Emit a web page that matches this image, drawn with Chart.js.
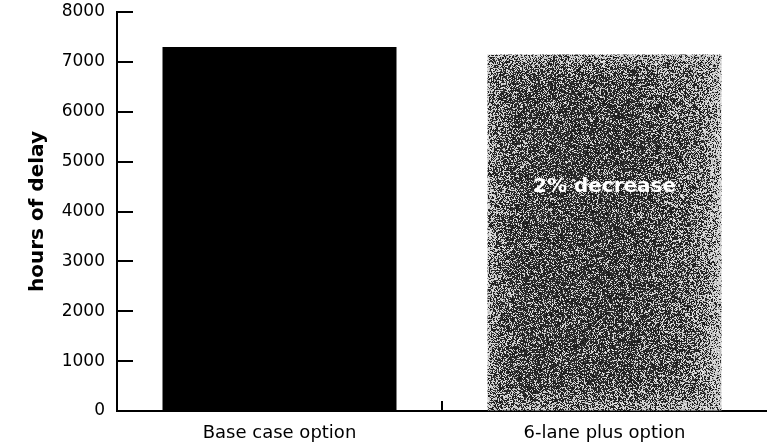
<!DOCTYPE html>
<html>
<head>
<meta charset="utf-8">
<script src="https://cdn.jsdelivr.net/npm/chart.js@4.4.1/dist/chart.umd.min.js"></script>
<style>
  html, body { margin: 0; padding: 0; background: #fff; }
  #wrap { width: 767px; height: 447px; }
</style>
</head>
<body>
<div id="wrap"><canvas id="delayChart" width="767" height="447"></canvas></div>
<script>
// chart data
const categories = ['Base case option', '6-lane plus option'];
const delayHours = [7300, 7150];
const yTicks = [0, 1000, 2000, 3000, 4000, 5000, 6000, 7000, 8000];
const annotationText = '2% decrease';
const annotationValue = 4490;

const FONT = '"DejaVu Sans", "Open Sans", sans-serif';
const BAR_PCT = 0.72;

function hash(x, y) {
    let h = (x * 374761393 + y * 668265263) | 0;
    h = (h ^ (h >>> 13)) * 1274126177;
    h = (h ^ (h >>> 16)) >>> 0;
    return (h % 10000) / 10000;
}

// scanned-look speckle: dark core, lighter edges
function speckledFill(chart) {
    const xs = chart.scales.x, ys = chart.scales.y;
    if (!xs || !chart.chartArea) return '#666';
    const cx = xs.getPixelForValue(1);
    const half = (xs.width / categories.length) * BAR_PCT / 2;
    const left = cx - half, right = cx + half;
    const top = ys.getPixelForValue(delayHours[1]), bottom = ys.bottom;
    const c = document.createElement('canvas');
    c.width = chart.width;
    c.height = chart.height;
    const g = c.getContext('2d');
    const img = g.createImageData(c.width, c.height);
    for (let y = Math.floor(top) - 1; y < Math.ceil(bottom) + 1; y++) {
        for (let x = Math.floor(left) - 1; x < Math.ceil(right) + 1; x++) {
            const d = Math.min(x - left, right - x, y - top, bottom - y);
            const edge = Math.exp(-Math.max(d, 0) / 14);
            const rightSide = Math.max(0, (x - left) / (right - left) - 0.6) * 0.5;
            const p = 0.26 + 0.4 * edge + rightSide;
            const r = hash(x, y);
            const v = r < p ? 235 - Math.floor(hash(y, x) * 60) : 20 + Math.floor(hash(y + 7, x) * 40);
            const i = (y * c.width + x) * 4;
            img.data[i] = img.data[i + 1] = img.data[i + 2] = v;
            img.data[i + 3] = 255;
        }
    }
    g.putImageData(img, 0, 0);
    return chart.ctx.createPattern(c, 'no-repeat');
}

// inward tick marks, middle x tick and the bar annotation
const axisMarks = {
    id: 'axisMarks',
    afterDatasetsDraw(chart) {
        const { ctx, scales: { x, y } } = chart;
        ctx.save();
        ctx.strokeStyle = '#000';
        ctx.lineWidth = 2;
        yTicks.forEach(v => {
            if (v === 0) return;
            const py = Math.round(y.getPixelForValue(v));
            ctx.beginPath();
            ctx.moveTo(x.left, py);
            ctx.lineTo(x.left + 16, py);
            ctx.stroke();
        });
        const mid = (x.getPixelForValue(0) + x.getPixelForValue(1)) / 2;
        ctx.beginPath();
        ctx.moveTo(mid, y.bottom);
        ctx.lineTo(mid, y.bottom - 10);
        ctx.stroke();

        const bar = chart.getDatasetMeta(0).data[1];
        ctx.fillStyle = '#fff';
        ctx.font = 'bold 20px ' + FONT;
        ctx.textAlign = 'center';
        ctx.textBaseline = 'middle';
        ctx.fillText(annotationText, bar.x, y.getPixelForValue(annotationValue));
        ctx.restore();
    }
};

new Chart(document.getElementById('delayChart'), {
    type: 'bar',
    data: {
        labels: categories,
        datasets: [{
            data: delayHours,
            backgroundColor: (ctx) => ctx.dataIndex === 0 ? '#000' : speckledFill(ctx.chart),
            borderWidth: 0,
            categoryPercentage: 1,
            barPercentage: BAR_PCT
        }]
    },
    options: {
        responsive: false,
        animation: false,
        layout: { padding: { top: 12, right: 0, left: 0, bottom: 0 } },
        plugins: { legend: { display: false }, tooltip: { enabled: false } },
        scales: {
            x: {
                grid: { display: true, drawOnChartArea: false, drawTicks: false },
                border: { display: true, color: '#000', width: 2 },
                ticks: { color: '#000', padding: 12, font: { family: FONT, size: 18 } },
                afterFit(scale) { scale.height = 36; scale.paddingLeft = 0; scale.paddingRight = 0; }
            },
            y: {
                min: 0,
                max: 8000,
                afterBuildTicks(scale) { scale.ticks = yTicks.map(v => ({ value: v })); },
                grid: { display: true, drawOnChartArea: false, drawTicks: false },
                border: { display: true, color: '#000', width: 2 },
                ticks: {
                    color: '#000',
                    padding: 12,
                    font: { family: FONT, size: 17 },
                    callback: (v) => String(v)
                },
                title: {
                    display: true,
                    text: 'hours of delay',
                    color: '#000',
                    font: { family: FONT, size: 20, weight: 'bold' },
                    padding: { top: 26, bottom: 0 }
                },
                afterFit(scale) { scale.width = 117; scale.paddingTop = 0; scale.paddingBottom = 0; }
            }
        }
    },
    plugins: [axisMarks]
});
</script>
</body>
</html>
